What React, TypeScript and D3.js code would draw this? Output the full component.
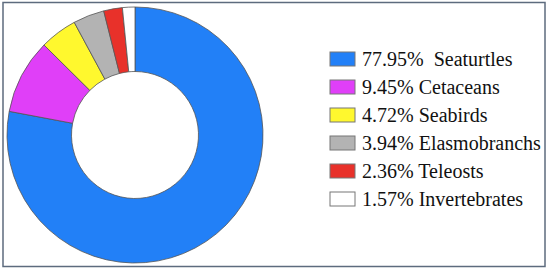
import * as d3 from "d3";
import React from "react";

const groups = ["Seaturtles", "Cetaceans", "Seabirds", "Elasmobranchs", "Teleosts", "Invertebrates"];
const shares = [77.95, 9.45, 4.72, 3.94, 2.36, 1.57];
const colors = ["#2280f7", "#e03ff8", "#fff82e", "#b3b3b3", "#e8312a", "#ffffff"];

const width = 550;
const height = 270;

const App: React.FC = () => {
    const cx = 135, cy = 135;
    const pie = d3.pie<number>().sort(null).value(d => d);
    const arcs = pie(shares);
    const arc = d3.arc<d3.PieArcDatum<number>>().innerRadius(63.5).outerRadius(128);

    const rowY = d3.scalePoint<number>().domain(d3.range(groups.length)).range([59, 199]);

    return (
        <svg width={width} height={height} style={{ position: "absolute", left: 0, top: 0, background: "white" }}>
            <rect x={3} y={2.5} width={542} height={264} fill="white" stroke="#5d6b7e" strokeWidth={1.5} />
            <g transform={`translate(${cx}, ${cy})`}>
                {arcs.map((a, i) => (
                    <path key={groups[i]} d={arc(a)!} fill={colors[i]} stroke="#555" strokeWidth={0.8} />
                ))}
            </g>
            {groups.map((g, i) => (
                <g key={g} transform={`translate(0, ${rowY(i)})`}>
                    <rect x={330} y={-7} width={25} height={14} fill={colors[i]} stroke="#777" strokeWidth={1} />
                    <text x={362} y={7} fill="#111"
                        style={{ whiteSpace: "pre", fontFamily: "\"Liberation Serif\"", fontSize: "20px" }}>
                        {`${shares[i].toFixed(2)}%${i === 0 ? "  " : " "}${g}`}
                    </text>
                </g>
            ))}
        </svg>
    );
};

export default App;
